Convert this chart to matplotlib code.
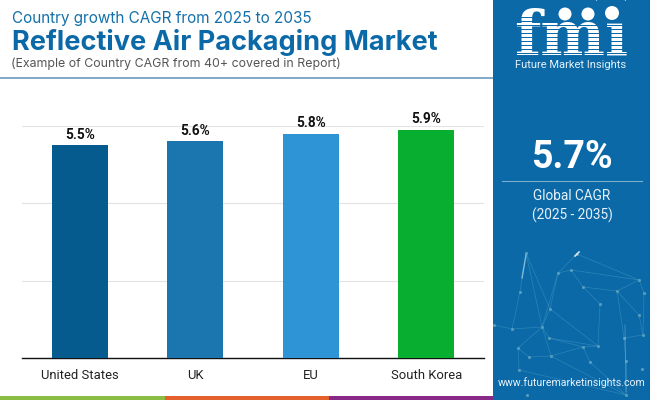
import matplotlib
matplotlib.use("Agg")
import matplotlib.pyplot as plt
from matplotlib.patches import Rectangle, Circle, Arc

countries = ["United States", "UK", "EU", "South Korea"]
cagr = [5.5, 5.6, 5.8, 5.9]
bar_colors = ["#055a8e", "#1b75ae", "#2f94d6", "#08ae2f"]
value_labels = ["5.5%", "5.6%", "5.8%", "5.9%"]
y_ticks = [0, 2, 4, 6]

W, H = 650, 400
BLUE = "#0b69a8"
fig = plt.figure(figsize=(6.5, 4), dpi=100, facecolor="white")

# overlay in pixel coordinates (y down) for decoration
bg = fig.add_axes([0, 0, 1, 1], zorder=0)
bg.set_xlim(0, W); bg.set_ylim(H, 0); bg.axis("off")

bg.add_patch(Rectangle((493, 0), 157, 400, color=BLUE, lw=0))
bg.add_patch(Rectangle((0, 77), 493, 1.6, color="#84aac9", lw=0))
for x0, x1, c in [(0, 165, "#8bbd45"), (165, 329, "#e4602d"), (329, 493, "#8a2a88")]:
    bg.add_patch(Rectangle((x0, 396), x1 - x0, 4, color=c, lw=0))

# network decoration
nodes = [(526,253),(577,254),(558,273),(571,270),(639,280),(583,287),(617,291),(520,292),(644,293),
         (550,309),(600,304),(639,315),(512,329),(542,327),(549,338),(598,346),(624,338),(643,335),
         (518,348),(583,347),(529,357),(551,356),(494,325),(519,370),(590,362),(626,361),(642,369),(626,395),(527,395)]
edges = [(0,7),(0,9),(0,13),(1,2),(1,4),(2,3),(2,9),(2,13),(3,4),(3,5),(4,6),(5,6),(5,10),(9,15),(9,13),
         (10,15),(6,16),(6,11),(4,8),(11,17),(16,17),(12,13),(13,18),(14,15),(14,19),(19,15),(20,21),(21,19),
         (19,24),(16,25),(25,27),(23,27),(21,27),(7,12),(18,23),(20,18),(22,12),(8,17),(13,14),(13,21),(24,27)]
for a, b in edges:
    bg.plot([nodes[a][0], nodes[b][0]], [nodes[a][1], nodes[b][1]], color="#4f9fc4", lw=0.5, alpha=0.5)
bg.scatter(*zip(*nodes), s=5, color="#7fb9c6", alpha=0.65, lw=0)
bg.plot([526, 522], [255, 278], color="#a8d6e6", lw=1.0, alpha=0.7)
bg.plot([625, 626], [325, 392], color="#a8d6e6", lw=0.7, alpha=0.35)
bg.plot([575, 579], [256, 252], color="white", lw=1.2, alpha=0.8)

# titles
bg.text(11.5, 19, "Country growth CAGR from 2025 to 2035", fontsize=11.0, color="#1470aa",
        family="Inter", va="center", ha="left")
bg.text(11.5, 42, "Reflective Air Packaging Market", fontsize=19.5, color="#0b69a8",
        family="Inter", weight="bold", va="center", ha="left")
bg.text(11, 63.5, "(Example of Country CAGR from 40+ covered in Report)", fontsize=8.9, color="#555555",
        family="Inter", va="center", ha="left")

# logo
bg.text(571.5, 55, "fmi", fontsize=44, color="white", family="DejaVu Serif", weight="bold",
        va="baseline", ha="center")
for y in range(17, 56, 4):
    bg.add_patch(Rectangle((512, y), 120, 0.9, color=BLUE, lw=0, zorder=5))
bg.add_patch(Rectangle((598, 2), 32, 20, color=BLUE, lw=0, zorder=5))
for cx, cy, r in [(565, 14, 6.5), (588, 14, 6.5), (612, 13, 7)]:
    bg.add_patch(Circle((cx, cy), r, color="white", lw=0, zorder=6))
bg.add_patch(Arc((611, 9), 36, 30, theta1=30, theta2=150, angle=180, color="white", lw=0.8, zorder=6))
bg.text(571, 64.5, "Future Market Insights", fontsize=8.0, color="#e6f1f8", family="Roboto",
        va="center", ha="center", zorder=7)

# CAGR panel
bg.text(572, 158, "5.7%", fontsize=27, color="white", family="Roboto", weight="bold",
        va="center", ha="center")
bg.plot([502, 642], [181, 181], color="#79add0", lw=0.8)
bg.text(572, 196, "Global CAGR", fontsize=9.8, color="#e6f1f8", family="Roboto", va="center", ha="center")
bg.text(572, 215, "(2025 - 2035)", fontsize=9.8, color="#e6f1f8", family="Roboto", va="center", ha="center")
bg.text(572, 383, "www.futuremarketinsights.com", fontsize=7.6, color="#e6f1f8", family="Roboto",
        va="center", ha="center")

# chart
ax = fig.add_axes([22 / W, 1 - 358 / H, 462 / W, 232 / H], zorder=2)
ax.patch.set_alpha(0)
x = range(len(countries))
bars = ax.bar(x, cagr, width=0.486, color=bar_colors, zorder=3)
ax.set_xlim(-0.5, 3.5)
ax.set_ylim(0, 6)
ax.set_yticks(y_ticks)
ax.set_yticklabels([])
ax.tick_params(axis="y", length=0)
ax.tick_params(axis="x", length=0, pad=8)
ax.set_xticks(list(x))
ax.set_xticklabels(countries, fontsize=9.4, family="Roboto", color="#222222")
ax.grid(axis="y", color="#e3e3e3", lw=0.8, zorder=0)
for s in ["top", "left", "right"]:
    ax.spines[s].set_visible(False)
ax.spines["bottom"].set_color("#111111")
ax.spines["bottom"].set_linewidth(1.0)
for b, t in zip(bars, value_labels):
    ax.annotate(t, (b.get_x() + b.get_width() / 2, b.get_height()), xytext=(0, 2.5),
                textcoords="offset points", ha="center", va="bottom", fontsize=9.8,
                family="Roboto", weight="bold", color="#111111", zorder=4)

fig.savefig("out.png", dpi=100)
